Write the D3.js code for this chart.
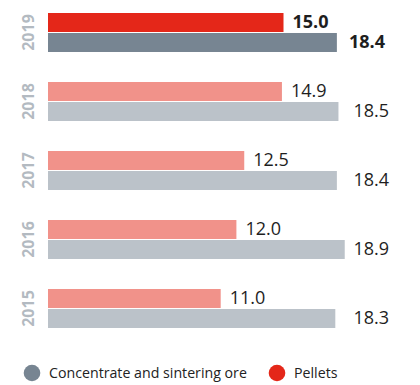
<!DOCTYPE html>
<html>
<head>
<meta charset="utf-8">
<script src="https://cdn.jsdelivr.net/npm/d3@7"></script>
<style>
  html, body { margin: 0; padding: 0; background: #fff; }
  svg { display: block; font-family: "Open Sans", "Noto Sans", sans-serif; }
</style>
</head>
<body>
<svg id="chart" width="420" height="385"></svg>
<script>
// Production by year, million tonnes
const years = ["2019", "2018", "2017", "2016", "2015"];
const pellets = [15.0, 14.9, 12.5, 12.0, 11.0];
const concentrate = [18.4, 18.5, 18.4, 18.9, 18.3];
const seriesNames = ["Concentrate and sintering ore", "Pellets"];

const svg = d3.select("#chart");

const x = d3.scaleLinear().domain([0, 20]).range([48, 362]);
const y = d3.scaleBand().domain(years).range([13, 328]).paddingInner(0.435);
const inner = d3.scaleBand().domain(["pellets", "concentrate"]).range([0, y.bandwidth()]).paddingInner(0.05);

const colors = {
  current: { pellets: "#e42719", concentrate: "#778592" },
  past:    { pellets: "#f1928a", concentrate: "#bbc2c9" }
};

const rows = years.map((yr, i) => ({
  year: yr,
  pellets: pellets[i],
  concentrate: concentrate[i],
  current: i === 0
}));

const g = svg.selectAll("g.year").data(rows).join("g")
  .attr("class", "year")
  .attr("transform", d => `translate(0,${y(d.year)})`);

// Bars
["pellets", "concentrate"].forEach(key => {
  g.append("rect")
    .attr("x", x(0))
    .attr("y", inner(key))
    .attr("width", d => x(d[key]) - x(0))
    .attr("height", inner.bandwidth())
    .attr("fill", d => (d.current ? colors.current : colors.past)[key]);
});

// Value labels
g.append("text")
  .attr("x", d => x(d.pellets) + 9)
  .attr("y", inner("pellets") + inner.bandwidth() - 4)
  .attr("font-size", 18)
  .attr("font-weight", d => d.current ? 700 : 400)
  .attr("fill", "#1e1e1e")
  .text(d => d3.format(".1f")(d.pellets));

g.append("text")
  .attr("x", d => d.current ? 385 : 389)
  .attr("text-anchor", "end")
  .attr("y", inner("concentrate") + inner.bandwidth() - 4)
  .attr("font-size", 18)
  .attr("font-weight", d => d.current ? 700 : 400)
  .attr("fill", "#1e1e1e")
  .text(d => d3.format(".1f")(d.concentrate));

// Year labels, rotated
g.append("text")
  .attr("transform", `translate(33.5,${y.bandwidth() / 2}) rotate(-90)`)
  .attr("text-anchor", "middle")
  .attr("font-size", 16)
  .attr("font-weight", 700)
  .attr("fill", "#b3bac1")
  .text(d => d.year);

// Legend
const legend = svg.append("g").attr("transform", "translate(0,373)");
const legendItems = [
  { name: seriesNames[0], color: colors.current.concentrate, cx: 32 },
  { name: seriesNames[1], color: colors.current.pellets, cx: 277 }
];
const li = legend.selectAll("g").data(legendItems).join("g")
  .attr("transform", d => `translate(${d.cx},0)`);
li.append("circle").attr("r", 8.3).attr("fill", d => d.color);
li.append("text")
  .attr("x", 17)
  .attr("y", 5)
  .attr("font-size", 14.2)
  .attr("fill", "#222")
  .text(d => d.name);
</script>
</body>
</html>
